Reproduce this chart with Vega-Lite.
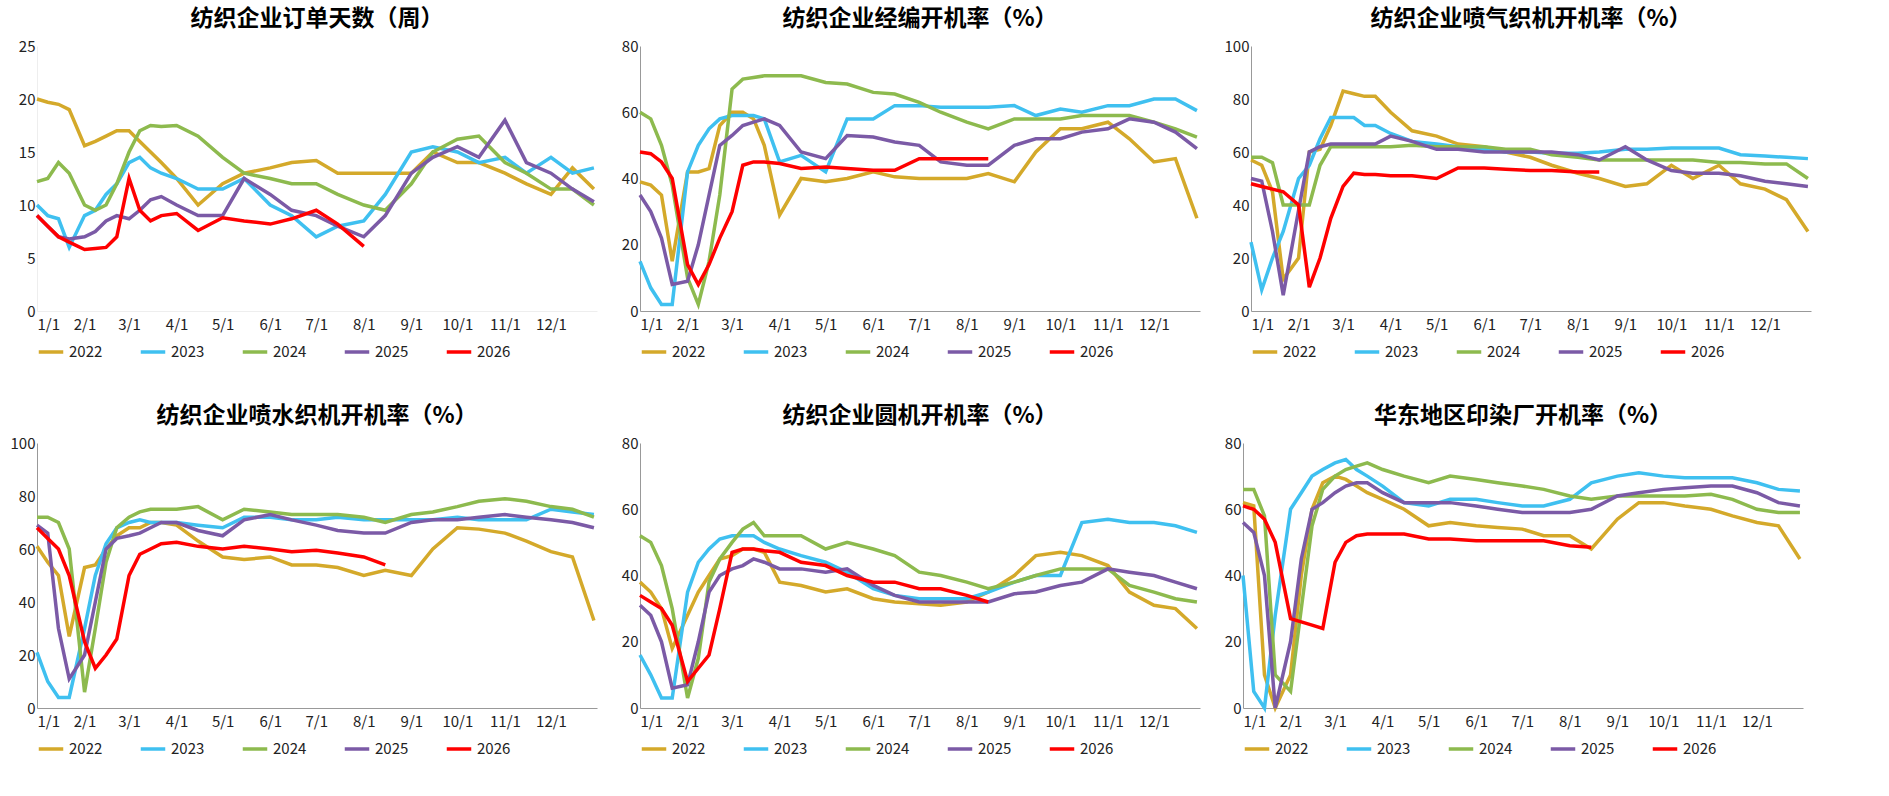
{
"$schema":"https://vega.github.io/schema/vega-lite/v6.json",
"background":"white",
"padding":{"left":10,"top":8,"right":8,"bottom":5},
"config":{"view":{"stroke":null},"font":"Noto Sans CJK SC","title":{"fontSize":23,"fontWeight":"bold","color":"#000","offset":8},
"axis":{"labelFontSize":15,"labelColor":"#222","title":null,"grid":false,"ticks":false,"domainColor":"#999"},
"axisX":{"labelPadding":6},
"legend":{"orient":"bottom","direction":"horizontal","labelFontSize":15,"labelColor":"#222","symbolType":"stroke","symbolStrokeWidth":3.5,"symbolSize":600,"title":null,"columnPadding":30,"offset":6}},
"spacing":45,
"resolve":{"scale":{"color":"independent"}},
"datasets":{"t":[
{"p":1,"d":"2000-01-01","2022":20,"2023":10,"2024":12.2,"2025":9,"2026":9},
{"p":1,"d":"2000-01-08","2022":19.7,"2023":9,"2024":12.5,"2025":8,"2026":8},
{"p":1,"d":"2000-01-15","2022":19.5,"2023":8.7,"2024":14,"2025":7,"2026":7},
{"p":1,"d":"2000-01-22","2022":19,"2023":6,"2024":13,"2025":6.8,"2026":6.5},
{"p":1,"d":"2000-02-01","2022":15.6,"2023":9,"2024":10,"2025":7,"2026":5.8},
{"p":1,"d":"2000-02-08","2022":16,"2023":9.5,"2024":9.5,"2025":7.5,"2026":5.9},
{"p":1,"d":"2000-02-15","2022":16.5,"2023":11,"2024":10,"2025":8.5,"2026":6},
{"p":1,"d":"2000-02-22","2022":17,"2023":12,"2024":12,"2025":9,"2026":7},
{"p":1,"d":"2000-03-01","2022":17,"2023":14,"2024":15,"2025":8.7,"2026":12.5},
{"p":1,"d":"2000-03-08","2022":16,"2023":14.5,"2024":17,"2025":9.5,"2026":9.5},
{"p":1,"d":"2000-03-15","2022":15,"2023":13.5,"2024":17.5,"2025":10.5,"2026":8.5},
{"p":1,"d":"2000-03-22","2022":14,"2023":13,"2024":17.4,"2025":10.8,"2026":9},
{"p":1,"d":"2000-04-01","2022":12.5,"2023":12.5,"2024":17.5,"2025":10,"2026":9.2},
{"p":1,"d":"2000-04-15","2022":10,"2023":11.5,"2024":16.5,"2025":9,"2026":7.6},
{"p":1,"d":"2000-05-01","2022":12,"2023":11.5,"2024":14.5,"2025":9,"2026":8.8},
{"p":1,"d":"2000-05-15","2022":13,"2023":12.5,"2024":13,"2025":12.5,"2026":8.5},
{"p":1,"d":"2000-06-01","2022":13.5,"2023":10,"2024":12.5,"2025":11,"2026":8.2},
{"p":1,"d":"2000-06-15","2022":14,"2023":9,"2024":12,"2025":9.5,"2026":8.7},
{"p":1,"d":"2000-07-01","2022":14.2,"2023":7,"2024":12,"2025":9,"2026":9.5},
{"p":1,"d":"2000-07-15","2022":13,"2023":8,"2024":11,"2025":8,"2026":8.2},
{"p":1,"d":"2000-08-01","2022":13,"2023":8.5,"2024":10,"2025":7,"2026":6.1},
{"p":1,"d":"2000-08-15","2022":13,"2023":11,"2024":9.5,"2025":9,"2026":null},
{"p":1,"d":"2000-09-01","2022":13,"2023":15,"2024":12,"2025":13,"2026":null},
{"p":1,"d":"2000-09-15","2022":15,"2023":15.5,"2024":15,"2025":14.5,"2026":null},
{"p":1,"d":"2000-10-01","2022":14,"2023":15,"2024":16.2,"2025":15.5,"2026":null},
{"p":1,"d":"2000-10-15","2022":14,"2023":14,"2024":16.5,"2025":14.5,"2026":null},
{"p":1,"d":"2000-11-01","2022":13,"2023":14.5,"2024":14,"2025":18,"2026":null},
{"p":1,"d":"2000-11-15","2022":12,"2023":13,"2024":13,"2025":14,"2026":null},
{"p":1,"d":"2000-12-01","2022":11,"2023":14.5,"2024":11.5,"2025":13,"2026":null},
{"p":1,"d":"2000-12-15","2022":13.5,"2023":13,"2024":11.5,"2025":11.5,"2026":null},
{"p":1,"d":"2000-12-29","2022":11.5,"2023":13.5,"2024":10,"2025":10.3,"2026":null},

{"p":2,"d":"2000-01-01","2022":39,"2023":15,"2024":60,"2025":35,"2026":48},
{"p":2,"d":"2000-01-08","2022":38,"2023":7,"2024":58,"2025":30,"2026":47.5},
{"p":2,"d":"2000-01-15","2022":35,"2023":2,"2024":50,"2025":22,"2026":45},
{"p":2,"d":"2000-01-22","2022":15,"2023":2,"2024":38,"2025":8,"2026":40},
{"p":2,"d":"2000-02-01","2022":42,"2023":42,"2024":10,"2025":9,"2026":14},
{"p":2,"d":"2000-02-08","2022":42,"2023":50,"2024":2,"2025":20,"2026":8},
{"p":2,"d":"2000-02-15","2022":43,"2023":55,"2024":15,"2025":35,"2026":14},
{"p":2,"d":"2000-02-22","2022":56,"2023":58,"2024":35,"2025":50,"2026":22},
{"p":2,"d":"2000-03-01","2022":60,"2023":59,"2024":67,"2025":53,"2026":30},
{"p":2,"d":"2000-03-08","2022":60,"2023":59,"2024":70,"2025":56,"2026":44},
{"p":2,"d":"2000-03-15","2022":58,"2023":59,"2024":70.5,"2025":57,"2026":45},
{"p":2,"d":"2000-03-22","2022":50,"2023":58,"2024":71,"2025":58,"2026":45},
{"p":2,"d":"2000-04-01","2022":29,"2023":45,"2024":71,"2025":56,"2026":44.5},
{"p":2,"d":"2000-04-15","2022":40,"2023":47,"2024":71,"2025":48,"2026":43},
{"p":2,"d":"2000-05-01","2022":39,"2023":42,"2024":69,"2025":46,"2026":43.5},
{"p":2,"d":"2000-05-15","2022":40,"2023":58,"2024":68.5,"2025":53,"2026":43},
{"p":2,"d":"2000-06-01","2022":42,"2023":58,"2024":66,"2025":52.5,"2026":42.5},
{"p":2,"d":"2000-06-15","2022":40.5,"2023":62,"2024":65.5,"2025":51,"2026":42.5},
{"p":2,"d":"2000-07-01","2022":40,"2023":62,"2024":63,"2025":50,"2026":46},
{"p":2,"d":"2000-07-15","2022":40,"2023":61.5,"2024":60,"2025":45,"2026":46},
{"p":2,"d":"2000-08-01","2022":40,"2023":61.5,"2024":57,"2025":44,"2026":46},
{"p":2,"d":"2000-08-15","2022":41.5,"2023":61.5,"2024":55,"2025":44,"2026":46},
{"p":2,"d":"2000-09-01","2022":39,"2023":62,"2024":58,"2025":50,"2026":null},
{"p":2,"d":"2000-09-15","2022":48,"2023":59,"2024":58,"2025":52,"2026":null},
{"p":2,"d":"2000-10-01","2022":55,"2023":61,"2024":58,"2025":52,"2026":null},
{"p":2,"d":"2000-10-15","2022":55,"2023":60,"2024":59,"2025":54,"2026":null},
{"p":2,"d":"2000-11-01","2022":57,"2023":62,"2024":59,"2025":55,"2026":null},
{"p":2,"d":"2000-11-15","2022":52,"2023":62,"2024":59,"2025":58,"2026":null},
{"p":2,"d":"2000-12-01","2022":45,"2023":64,"2024":57,"2025":57,"2026":null},
{"p":2,"d":"2000-12-15","2022":46,"2023":64,"2024":55,"2025":54,"2026":null},
{"p":2,"d":"2000-12-29","2022":28,"2023":60.5,"2024":52.5,"2025":49,"2026":null},

{"p":3,"d":"2000-01-01","2022":57,"2023":26,"2024":58,"2025":50,"2026":48},
{"p":3,"d":"2000-01-08","2022":55,"2023":8,"2024":58,"2025":49,"2026":47},
{"p":3,"d":"2000-01-15","2022":45,"2023":20,"2024":56,"2025":30,"2026":46},
{"p":3,"d":"2000-01-22","2022":12,"2023":30,"2024":40,"2025":6,"2026":45},
{"p":3,"d":"2000-02-01","2022":20,"2023":50,"2024":40,"2025":38,"2026":40},
{"p":3,"d":"2000-02-08","2022":60,"2023":55,"2024":40,"2025":60,"2026":9},
{"p":3,"d":"2000-02-15","2022":61,"2023":65,"2024":55,"2025":62,"2026":20},
{"p":3,"d":"2000-02-22","2022":70,"2023":73,"2024":62,"2025":63,"2026":35},
{"p":3,"d":"2000-03-01","2022":83,"2023":73,"2024":62,"2025":63,"2026":47},
{"p":3,"d":"2000-03-08","2022":82,"2023":73,"2024":62,"2025":63,"2026":52},
{"p":3,"d":"2000-03-15","2022":81,"2023":70,"2024":62,"2025":63,"2026":51.5},
{"p":3,"d":"2000-03-22","2022":81,"2023":70,"2024":62,"2025":63,"2026":51.5},
{"p":3,"d":"2000-04-01","2022":75,"2023":67,"2024":62,"2025":66,"2026":51},
{"p":3,"d":"2000-04-15","2022":68,"2023":64,"2024":62.5,"2025":64,"2026":51},
{"p":3,"d":"2000-05-01","2022":66,"2023":63,"2024":62,"2025":61,"2026":50},
{"p":3,"d":"2000-05-15","2022":63,"2023":62,"2024":62,"2025":61,"2026":54},
{"p":3,"d":"2000-06-01","2022":62,"2023":61,"2024":62,"2025":60,"2026":54},
{"p":3,"d":"2000-06-15","2022":60,"2023":60,"2024":61,"2025":60,"2026":53.5},
{"p":3,"d":"2000-07-01","2022":58,"2023":60,"2024":61,"2025":60,"2026":53},
{"p":3,"d":"2000-07-15","2022":55,"2023":59.5,"2024":59,"2025":60,"2026":53},
{"p":3,"d":"2000-08-01","2022":52,"2023":59.5,"2024":58,"2025":59,"2026":52.5},
{"p":3,"d":"2000-08-15","2022":50,"2023":60,"2024":57,"2025":57,"2026":52.5},
{"p":3,"d":"2000-09-01","2022":47,"2023":61,"2024":57,"2025":62,"2026":null},
{"p":3,"d":"2000-09-15","2022":48,"2023":61,"2024":57,"2025":57,"2026":null},
{"p":3,"d":"2000-10-01","2022":55,"2023":61.5,"2024":57,"2025":53,"2026":null},
{"p":3,"d":"2000-10-15","2022":50,"2023":61.5,"2024":57,"2025":52,"2026":null},
{"p":3,"d":"2000-11-01","2022":55,"2023":61.5,"2024":56,"2025":52,"2026":null},
{"p":3,"d":"2000-11-15","2022":48,"2023":59,"2024":56,"2025":51,"2026":null},
{"p":3,"d":"2000-12-01","2022":46,"2023":58.5,"2024":55.5,"2025":49,"2026":null},
{"p":3,"d":"2000-12-15","2022":42,"2023":58,"2024":55.5,"2025":48,"2026":null},
{"p":3,"d":"2000-12-29","2022":30,"2023":57.5,"2024":50,"2025":47,"2026":null},

{"p":4,"d":"2000-01-01","2022":61,"2023":21,"2024":72,"2025":69,"2026":68},
{"p":4,"d":"2000-01-08","2022":55,"2023":10,"2024":72,"2025":66,"2026":64},
{"p":4,"d":"2000-01-15","2022":50,"2023":4,"2024":70,"2025":30,"2026":60},
{"p":4,"d":"2000-01-22","2022":27,"2023":4,"2024":60,"2025":11,"2026":50},
{"p":4,"d":"2000-02-01","2022":53,"2023":30,"2024":6,"2025":20,"2026":25},
{"p":4,"d":"2000-02-08","2022":54,"2023":50,"2024":30,"2025":40,"2026":15},
{"p":4,"d":"2000-02-15","2022":60,"2023":62,"2024":55,"2025":60,"2026":20},
{"p":4,"d":"2000-02-22","2022":65,"2023":68,"2024":68,"2025":64,"2026":26},
{"p":4,"d":"2000-03-01","2022":68,"2023":70,"2024":72,"2025":65,"2026":50},
{"p":4,"d":"2000-03-08","2022":68,"2023":71,"2024":74,"2025":66,"2026":58},
{"p":4,"d":"2000-03-15","2022":70,"2023":70,"2024":75,"2025":68,"2026":60},
{"p":4,"d":"2000-03-22","2022":70,"2023":70,"2024":75,"2025":70,"2026":62},
{"p":4,"d":"2000-04-01","2022":69,"2023":70,"2024":75,"2025":70,"2026":62.5},
{"p":4,"d":"2000-04-15","2022":63,"2023":69,"2024":76,"2025":67,"2026":61},
{"p":4,"d":"2000-05-01","2022":57,"2023":68,"2024":71,"2025":65,"2026":60},
{"p":4,"d":"2000-05-15","2022":56,"2023":72,"2024":75,"2025":71,"2026":61},
{"p":4,"d":"2000-06-01","2022":57,"2023":72,"2024":74,"2025":73,"2026":60},
{"p":4,"d":"2000-06-15","2022":54,"2023":71,"2024":73,"2025":71,"2026":59},
{"p":4,"d":"2000-07-01","2022":54,"2023":71,"2024":73,"2025":69,"2026":59.5},
{"p":4,"d":"2000-07-15","2022":53,"2023":72,"2024":73,"2025":67,"2026":58.5},
{"p":4,"d":"2000-08-01","2022":50,"2023":71,"2024":72,"2025":66,"2026":57},
{"p":4,"d":"2000-08-15","2022":52,"2023":71,"2024":70,"2025":66,"2026":54},
{"p":4,"d":"2000-09-01","2022":50,"2023":71,"2024":73,"2025":70,"2026":null},
{"p":4,"d":"2000-09-15","2022":60,"2023":71,"2024":74,"2025":71,"2026":null},
{"p":4,"d":"2000-10-01","2022":68,"2023":72,"2024":76,"2025":71,"2026":null},
{"p":4,"d":"2000-10-15","2022":67.5,"2023":71,"2024":78,"2025":72,"2026":null},
{"p":4,"d":"2000-11-01","2022":66,"2023":71,"2024":79,"2025":73,"2026":null},
{"p":4,"d":"2000-11-15","2022":63,"2023":71,"2024":78,"2025":72,"2026":null},
{"p":4,"d":"2000-12-01","2022":59,"2023":75,"2024":76,"2025":71,"2026":null},
{"p":4,"d":"2000-12-15","2022":57,"2023":74,"2024":75,"2025":70,"2026":null},
{"p":4,"d":"2000-12-29","2022":33,"2023":73,"2024":72,"2025":68,"2026":null},

{"p":5,"d":"2000-01-01","2022":38,"2023":16,"2024":52,"2025":31,"2026":34},
{"p":5,"d":"2000-01-08","2022":35,"2023":10,"2024":50,"2025":28,"2026":32},
{"p":5,"d":"2000-01-15","2022":30,"2023":3,"2024":43,"2025":20,"2026":30},
{"p":5,"d":"2000-01-22","2022":18,"2023":3,"2024":30,"2025":6,"2026":25},
{"p":5,"d":"2000-02-01","2022":28,"2023":35,"2024":3,"2025":7,"2026":8},
{"p":5,"d":"2000-02-08","2022":35,"2023":44,"2024":15,"2025":20,"2026":12},
{"p":5,"d":"2000-02-15","2022":40,"2023":48,"2024":38,"2025":35,"2026":16},
{"p":5,"d":"2000-02-22","2022":45,"2023":51,"2024":45,"2025":40,"2026":30},
{"p":5,"d":"2000-03-01","2022":46,"2023":52,"2024":50,"2025":42,"2026":47},
{"p":5,"d":"2000-03-08","2022":48,"2023":52,"2024":54,"2025":43,"2026":48},
{"p":5,"d":"2000-03-15","2022":48,"2023":52,"2024":56,"2025":45,"2026":48},
{"p":5,"d":"2000-03-22","2022":47,"2023":50,"2024":52,"2025":44,"2026":47.5},
{"p":5,"d":"2000-04-01","2022":38,"2023":48,"2024":52,"2025":42,"2026":47},
{"p":5,"d":"2000-04-15","2022":37,"2023":46,"2024":52,"2025":42,"2026":44},
{"p":5,"d":"2000-05-01","2022":35,"2023":44,"2024":48,"2025":41,"2026":43},
{"p":5,"d":"2000-05-15","2022":36,"2023":41,"2024":50,"2025":42,"2026":40},
{"p":5,"d":"2000-06-01","2022":33,"2023":36,"2024":48,"2025":37,"2026":38},
{"p":5,"d":"2000-06-15","2022":32,"2023":34,"2024":46,"2025":34,"2026":38},
{"p":5,"d":"2000-07-01","2022":31.5,"2023":33,"2024":41,"2025":32,"2026":36},
{"p":5,"d":"2000-07-15","2022":31,"2023":33,"2024":40,"2025":32,"2026":36},
{"p":5,"d":"2000-08-01","2022":32,"2023":33,"2024":38,"2025":32,"2026":34},
{"p":5,"d":"2000-08-15","2022":35,"2023":35,"2024":36,"2025":32,"2026":32},
{"p":5,"d":"2000-09-01","2022":40,"2023":38,"2024":38,"2025":34.5,"2026":null},
{"p":5,"d":"2000-09-15","2022":46,"2023":40,"2024":40,"2025":35,"2026":null},
{"p":5,"d":"2000-10-01","2022":47,"2023":40,"2024":42,"2025":37,"2026":null},
{"p":5,"d":"2000-10-15","2022":46,"2023":56,"2024":42,"2025":38,"2026":null},
{"p":5,"d":"2000-11-01","2022":43,"2023":57,"2024":42,"2025":42,"2026":null},
{"p":5,"d":"2000-11-15","2022":35,"2023":56,"2024":37,"2025":41,"2026":null},
{"p":5,"d":"2000-12-01","2022":31,"2023":56,"2024":35,"2025":40,"2026":null},
{"p":5,"d":"2000-12-15","2022":30,"2023":55,"2024":33,"2025":38,"2026":null},
{"p":5,"d":"2000-12-29","2022":24,"2023":53,"2024":32,"2025":36,"2026":null},

{"p":6,"d":"2000-01-01","2022":62,"2023":40,"2024":66,"2025":56,"2026":61},
{"p":6,"d":"2000-01-08","2022":61,"2023":5,"2024":66,"2025":53,"2026":60},
{"p":6,"d":"2000-01-15","2022":10,"2023":0,"2024":58,"2025":40,"2026":57},
{"p":6,"d":"2000-01-22","2022":0,"2023":28,"2024":10,"2025":0,"2026":50},
{"p":6,"d":"2000-02-01","2022":10,"2023":60,"2024":5,"2025":20,"2026":27},
{"p":6,"d":"2000-02-08","2022":40,"2023":65,"2024":30,"2025":45,"2026":26},
{"p":6,"d":"2000-02-15","2022":60,"2023":70,"2024":55,"2025":60,"2026":25},
{"p":6,"d":"2000-02-22","2022":68,"2023":72,"2024":66,"2025":62,"2026":24},
{"p":6,"d":"2000-03-01","2022":70,"2023":74,"2024":70,"2025":65,"2026":44},
{"p":6,"d":"2000-03-08","2022":69,"2023":75,"2024":72,"2025":67,"2026":50},
{"p":6,"d":"2000-03-15","2022":67,"2023":72,"2024":73,"2025":68,"2026":52},
{"p":6,"d":"2000-03-22","2022":65,"2023":70,"2024":74,"2025":68,"2026":52.5},
{"p":6,"d":"2000-04-01","2022":63,"2023":67,"2024":72,"2025":65,"2026":52.5},
{"p":6,"d":"2000-04-15","2022":60,"2023":62,"2024":70,"2025":62,"2026":52.5},
{"p":6,"d":"2000-05-01","2022":55,"2023":61,"2024":68,"2025":62,"2026":51},
{"p":6,"d":"2000-05-15","2022":56,"2023":63,"2024":70,"2025":62,"2026":51},
{"p":6,"d":"2000-06-01","2022":55,"2023":63,"2024":69,"2025":61,"2026":50.5},
{"p":6,"d":"2000-06-15","2022":54.5,"2023":62,"2024":68,"2025":60,"2026":50.5},
{"p":6,"d":"2000-07-01","2022":54,"2023":61,"2024":67,"2025":59,"2026":50.5},
{"p":6,"d":"2000-07-15","2022":52,"2023":61,"2024":66,"2025":59,"2026":50.5},
{"p":6,"d":"2000-08-01","2022":52,"2023":63,"2024":64,"2025":59,"2026":49},
{"p":6,"d":"2000-08-15","2022":48,"2023":68,"2024":63,"2025":60,"2026":48.5},
{"p":6,"d":"2000-09-01","2022":57,"2023":70,"2024":64,"2025":64,"2026":null},
{"p":6,"d":"2000-09-15","2022":62,"2023":71,"2024":64,"2025":65,"2026":null},
{"p":6,"d":"2000-10-01","2022":62,"2023":70,"2024":64,"2025":66,"2026":null},
{"p":6,"d":"2000-10-15","2022":61,"2023":69.5,"2024":64,"2025":66.5,"2026":null},
{"p":6,"d":"2000-11-01","2022":60,"2023":69.5,"2024":64.5,"2025":67,"2026":null},
{"p":6,"d":"2000-11-15","2022":58,"2023":69.5,"2024":63,"2025":67,"2026":null},
{"p":6,"d":"2000-12-01","2022":56,"2023":68,"2024":60,"2025":65,"2026":null},
{"p":6,"d":"2000-12-15","2022":55,"2023":66,"2024":59,"2025":62,"2026":null},
{"p":6,"d":"2000-12-29","2022":45,"2023":65.5,"2024":59,"2025":61,"2026":null}
]},
"vconcat":[
{"hconcat":[
{"title":"纺织企业订单天数（周）","width":560,"height":265,"data":{"name":"t"},"transform":[{"filter":"datum.p==1"},{"fold":["2022","2023","2024","2025","2026"],"as":["s","v"]}],
"mark":{"type":"line","strokeWidth":3.5},
"encoding":{"x":{"field":"d","type":"temporal","scale":{"domain":["2000-01-01","2000-12-31"]},"axis":{"format":"%-m/%-d","tickCount":{"interval":"month","step":1},"labelAngle":0,"domainColor":"#eee"}},
"y":{"field":"v","type":"quantitative","scale":{"domain":[0,25]},"axis":{"values":[0,5,10,15,20,25],"domainColor":"#eee"}},
"color":{"field":"s","type":"nominal","scale":{"domain":["2022","2023","2024","2025","2026"],"range":["#D4A92A","#3FC0F0","#8DBA4E","#7B5AA6","#FF0000"]}}}},
{"title":"纺织企业经编开机率（%）","width":560,"height":265,"data":{"name":"t"},"transform":[{"filter":"datum.p==2"},{"fold":["2022","2023","2024","2025","2026"],"as":["s","v"]}],
"mark":{"type":"line","strokeWidth":3.5},
"encoding":{"x":{"field":"d","type":"temporal","scale":{"domain":["2000-01-01","2000-12-31"]},"axis":{"format":"%-m/%-d","tickCount":{"interval":"month","step":1},"labelAngle":0}},
"y":{"field":"v","type":"quantitative","scale":{"domain":[0,80]},"axis":{"values":[0,20,40,60,80]}},
"color":{"field":"s","type":"nominal","scale":{"domain":["2022","2023","2024","2025","2026"],"range":["#D4A92A","#3FC0F0","#8DBA4E","#7B5AA6","#FF0000"]}}}},
{"title":"纺织企业喷气织机开机率（%）","width":560,"height":265,"data":{"name":"t"},"transform":[{"filter":"datum.p==3"},{"fold":["2022","2023","2024","2025","2026"],"as":["s","v"]}],
"mark":{"type":"line","strokeWidth":3.5},
"encoding":{"x":{"field":"d","type":"temporal","scale":{"domain":["2000-01-01","2000-12-31"]},"axis":{"format":"%-m/%-d","tickCount":{"interval":"month","step":1},"labelAngle":0}},
"y":{"field":"v","type":"quantitative","scale":{"domain":[0,100]},"axis":{"values":[0,20,40,60,80,100]}},
"color":{"field":"s","type":"nominal","scale":{"domain":["2022","2023","2024","2025","2026"],"range":["#D4A92A","#3FC0F0","#8DBA4E","#7B5AA6","#FF0000"]}}}}
],"resolve":{"scale":{"color":"independent"}}},
{"hconcat":[
{"title":"纺织企业喷水织机开机率（%）","width":560,"height":265,"data":{"name":"t"},"transform":[{"filter":"datum.p==4"},{"fold":["2022","2023","2024","2025","2026"],"as":["s","v"]}],
"mark":{"type":"line","strokeWidth":3.5},
"encoding":{"x":{"field":"d","type":"temporal","scale":{"domain":["2000-01-01","2000-12-31"]},"axis":{"format":"%-m/%-d","tickCount":{"interval":"month","step":1},"labelAngle":0}},
"y":{"field":"v","type":"quantitative","scale":{"domain":[0,100]},"axis":{"values":[0,20,40,60,80,100]}},
"color":{"field":"s","type":"nominal","scale":{"domain":["2022","2023","2024","2025","2026"],"range":["#D4A92A","#3FC0F0","#8DBA4E","#7B5AA6","#FF0000"]}}}},
{"title":"纺织企业圆机开机率（%）","width":560,"height":265,"data":{"name":"t"},"transform":[{"filter":"datum.p==5"},{"fold":["2022","2023","2024","2025","2026"],"as":["s","v"]}],
"mark":{"type":"line","strokeWidth":3.5},
"encoding":{"x":{"field":"d","type":"temporal","scale":{"domain":["2000-01-01","2000-12-31"]},"axis":{"format":"%-m/%-d","tickCount":{"interval":"month","step":1},"labelAngle":0}},
"y":{"field":"v","type":"quantitative","scale":{"domain":[0,80]},"axis":{"values":[0,20,40,60,80]}},
"color":{"field":"s","type":"nominal","scale":{"domain":["2022","2023","2024","2025","2026"],"range":["#D4A92A","#3FC0F0","#8DBA4E","#7B5AA6","#FF0000"]}}}},
{"title":"华东地区印染厂开机率（%）","width":560,"height":265,"data":{"name":"t"},"transform":[{"filter":"datum.p==6"},{"fold":["2022","2023","2024","2025","2026"],"as":["s","v"]}],
"mark":{"type":"line","strokeWidth":3.5},
"encoding":{"x":{"field":"d","type":"temporal","scale":{"domain":["2000-01-01","2000-12-31"]},"axis":{"format":"%-m/%-d","tickCount":{"interval":"month","step":1},"labelAngle":0}},
"y":{"field":"v","type":"quantitative","scale":{"domain":[0,80]},"axis":{"values":[0,20,40,60,80]}},
"color":{"field":"s","type":"nominal","scale":{"domain":["2022","2023","2024","2025","2026"],"range":["#D4A92A","#3FC0F0","#8DBA4E","#7B5AA6","#FF0000"]}}}}
],"resolve":{"scale":{"color":"independent"}}}
]
}
